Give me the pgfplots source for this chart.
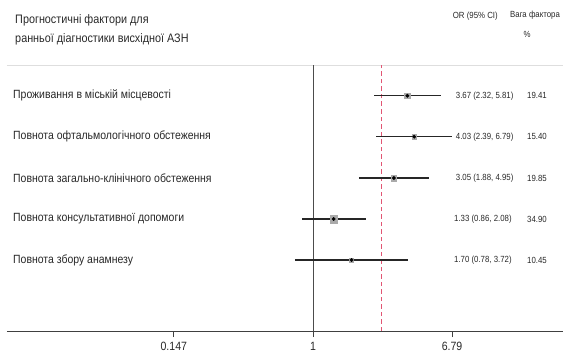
\documentclass[border=0pt]{standalone}
\usepackage{fontspec}
\setmainfont{Liberation Sans}
\newfontfamily\cond[FakeStretch=0.88]{Liberation Sans}
\usepackage{pgfplots}
\pgfplotsset{compat=1.18}
\definecolor{txt}{RGB}{40,40,40}
\definecolor{sq}{RGB}{170,170,170}
\definecolor{reddash}{RGB}{225,85,115}
\begin{document}
\begin{tikzpicture}[x=1pt,y=1pt]
\useasboundingbox (0,-23) rectangle (563,331);
\begin{axis}[at={(7pt,0pt)}, anchor=south west, width=556pt, height=331pt, scale only axis,
  xmode=log, xmin=0.01477, xmax=31.30, ymin=0, ymax=331,
  axis x line*=bottom, axis y line=none, clip=false,
  x axis line style={-, draw=black!75, line width=0.8pt},
  xtick={0.147,1,6.79}, xticklabels={0.147,1,6.79}, minor xtick={},
  xtick align=outside, major tick length=6pt,
  tick style={draw=black!75, line width=0.8pt},
  xticklabel style={font=\cond\fontsize{12}{14}\selectfont, text=txt, yshift=-1.5pt},
  log basis x=10,
]
% light top rule of plot region
\addplot[draw=black!13, line width=0.9pt] coordinates {(0.01477,266) (31.30,266)};
% reference lines
\addplot[draw=black!70, line width=0.8pt] coordinates {(1,0) (1,266)};
\addplot[color=reddash, line width=1.1pt, dash pattern=on 4.5pt off 3pt] coordinates {(2.58,0) (2.58,266)};
% confidence intervals
\addplot[draw=black!85, line width=1.4pt] coordinates {(2.32,235.3) (5.81,235.3)};
\addplot[draw=black!85, line width=1.4pt] coordinates {(2.39,194.3) (6.79,194.3)};
\addplot[draw=black!85, line width=1.4pt] coordinates {(1.88,153) (4.95,153)};
\addplot[draw=black!85, line width=1.4pt] coordinates {(0.86,112) (2.08,112)};
\addplot[draw=black!85, line width=1.4pt] coordinates {(0.78,71) (3.72,71)};
% weight squares
\addplot[only marks, mark=square*, mark size=2.7pt, mark options={fill=sq, draw=sq}] coordinates {(3.67,235.3)};
\addplot[only marks, mark=square*, mark size=2.4pt, mark options={fill=sq, draw=sq}] coordinates {(4.03,194.3)};
\addplot[only marks, mark=square*, mark size=2.7pt, mark options={fill=sq, draw=sq}] coordinates {(3.05,153)};
\addplot[only marks, mark=square*, mark size=3.8pt, mark options={fill=sq, draw=sq}] coordinates {(1.33,112)};
\addplot[only marks, mark=square*, mark size=2.0pt, mark options={fill=sq, draw=sq}] coordinates {(1.70,71)};
% point estimates
\addplot[only marks, mark=*, mark size=1.7pt, mark options={fill=black, draw=black}] coordinates {(3.67,235.3) (4.03,194.3) (3.05,153) (1.33,112) (1.70,71)};
% texts
\begin{scope}[every node/.style={font=\cond\fontsize{11.9}{14}\selectfont, text=txt, inner sep=0pt}]
\node[anchor=west, font=\cond\fontsize{12.3}{14}\selectfont] at (axis cs:0.0165,310.3) {Прогностичні фактори для};
\node[anchor=west, font=\cond\fontsize{12.3}{14}\selectfont] at (axis cs:0.0165,292) {ранньої діагностики висхідної АЗН};
\node[anchor=west] at (axis cs:0.01604,235.3) {Проживання в міській місцевості};
\node[anchor=west] at (axis cs:0.01604,194.3) {Повнота офтальмологічного обстеження};
\node[anchor=west] at (axis cs:0.01604,153) {Повнота загально-клінічного обстеження};
\node[anchor=west] at (axis cs:0.01604,112) {Повнота консультативної допомоги};
\node[anchor=west] at (axis cs:0.01604,71) {Повнота збору анамнезу};
\end{scope}
\begin{scope}[every node/.style={font=\cond\fontsize{8.9}{10}\selectfont, text=txt, inner sep=0pt}]
\node[anchor=west] at (axis cs:6.85,315) {OR (95\% CI)};
\node[anchor=center] at (axis cs:21.3,316) {Вага фактора};
\node[anchor=center] at (axis cs:19.1,297) {\%};
\node[anchor=west] at (axis cs:7.14,235.3) {3.67 (2.32, 5.81)};
\node[anchor=west] at (axis cs:7.14,194.3) {4.03 (2.39, 6.79)};
\node[anchor=west] at (axis cs:7.14,153) {3.05 (1.88, 4.95)};
\node[anchor=west] at (axis cs:6.97,112) {1.33 (0.86, 2.08)};
\node[anchor=west] at (axis cs:6.97,71) {1.70 (0.78, 3.72)};
\node[anchor=east] at (axis cs:25.1,235.3) {19.41};
\node[anchor=east] at (axis cs:25.1,194.3) {15.40};
\node[anchor=east] at (axis cs:25.1,153) {19.85};
\node[anchor=east] at (axis cs:25.1,112) {34.90};
\node[anchor=east] at (axis cs:25.1,71) {10.45};
\end{scope}
\end{axis}
\end{tikzpicture}
\end{document}
